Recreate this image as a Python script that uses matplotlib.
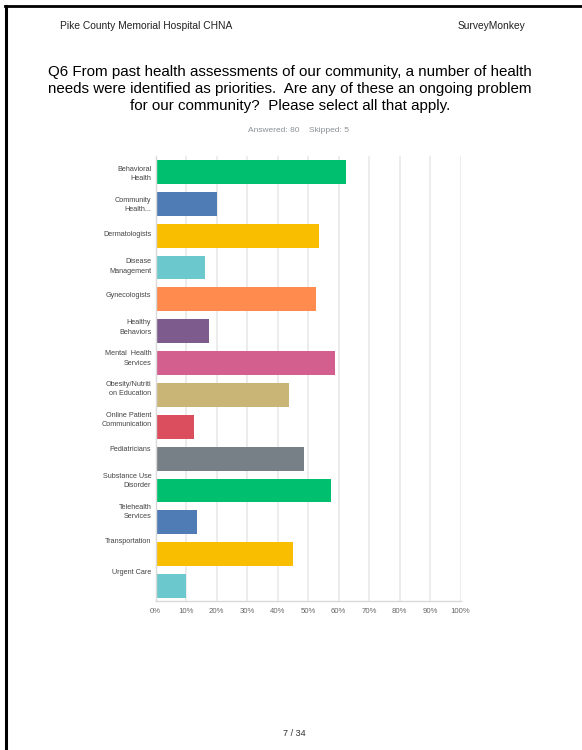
import numpy as np
import matplotlib
matplotlib.use("Agg")
from matplotlib import pyplot as plt

# answer choices and share of respondents (80 answered)
categories = [
    "Behavioral\nHealth", "Community\nHealth...", "Dermatologists",
    "Disease\nManagement", "Gynecologists", "Healthy\nBehaviors",
    "Mental  Health\nServices", "Obesity/Nutriti\non Education",
    "Online Patient\nCommunication", "Pediatricians",
    "Substance Use\nDisorder", "Telehealth\nServices", "Transportation",
    "Urgent Care",
]
percents = [62.5, 20.0, 53.75, 16.25, 52.5, 17.5, 58.75, 43.75,
            12.5, 48.75, 57.5, 13.75, 45.0, 10.0]
colors = ["#00BF6F", "#507CB6", "#F9BE00", "#6BC8CD", "#FF8B4F",
          "#7D5B8D", "#D25F8E", "#C9B677", "#DA4E5D", "#768086",
          "#00BF6F", "#507CB6", "#F9BE00", "#6BC8CD"]
x_ticks = list(range(0, 101, 10))
x_labels = [f"{t}%" for t in x_ticks]

plt.rcParams["font.family"] = ["Liberation Sans", "DejaVu Sans"]

fig = plt.figure(figsize=(5.82, 7.5), dpi=100)

# page frame (top and left edges)
fig.add_artist(plt.Line2D([4.5 / 582, 1], [1 - 6 / 750] * 2, color="black", lw=2))
fig.add_artist(plt.Line2D([5.5 / 582] * 2, [0, 1 - 6 / 750], color="black", lw=2.2))

fig.text(60 / 582, 1 - 26 / 750, "Pike County Memorial Hospital CHNA",
         fontsize=7.4, color="#222222", va="center")
fig.text(525 / 582, 1 - 26 / 750, "SurveyMonkey", fontsize=7.4,
         color="#222222", va="center", ha="right")
fig.text(290 / 582, 1 - 89 / 750,
         "Q6 From past health assessments of our community, a number of health\n"
         "needs were identified as priorities.  Are any of these an ongoing problem\n"
         "for our community?  Please select all that apply.",
         fontsize=10.9, ha="center", va="center", linespacing=1.3)
fig.text(298 / 582, 1 - 131 / 750, "Answered: 80    Skipped: 5", fontsize=6,
         color="#8a9096", ha="center", va="center")
fig.text(294 / 582, 1 - 733 / 750, "7 / 34", fontsize=6.6, color="#333333",
         ha="center", va="center")

ax = fig.add_axes([155.5 / 582, 1 - 601 / 750, 305 / 582, 445 / 750])
y = np.arange(len(categories))
ax.barh(y, percents, height=0.75, color=colors, zorder=2)
ax.set_xlim(0, 100)
ax.set_ylim(13.47, -0.5)
ax.set_xticks(x_ticks)
ax.set_xticklabels(x_labels, fontsize=5.6, color="#666666")
# the labels sit on a slightly tighter pitch than the bars
ax.set_yticks(y * 0.964)
ax.set_yticklabels(categories, fontsize=5.2, color="#444444", linespacing=1.5)
ax.tick_params(axis="y", length=0, pad=3)
ax.tick_params(axis="x", length=0, pad=5)
ax.grid(axis="x", color="#ebebeb", lw=1.3, zorder=0)
for side in ["top", "right"]:
    ax.spines[side].set_visible(False)
for side in ["left", "bottom"]:
    ax.spines[side].set_color("#d9d9d9")
    ax.spines[side].set_linewidth(1)

fig.savefig("out.png", dpi=100)
